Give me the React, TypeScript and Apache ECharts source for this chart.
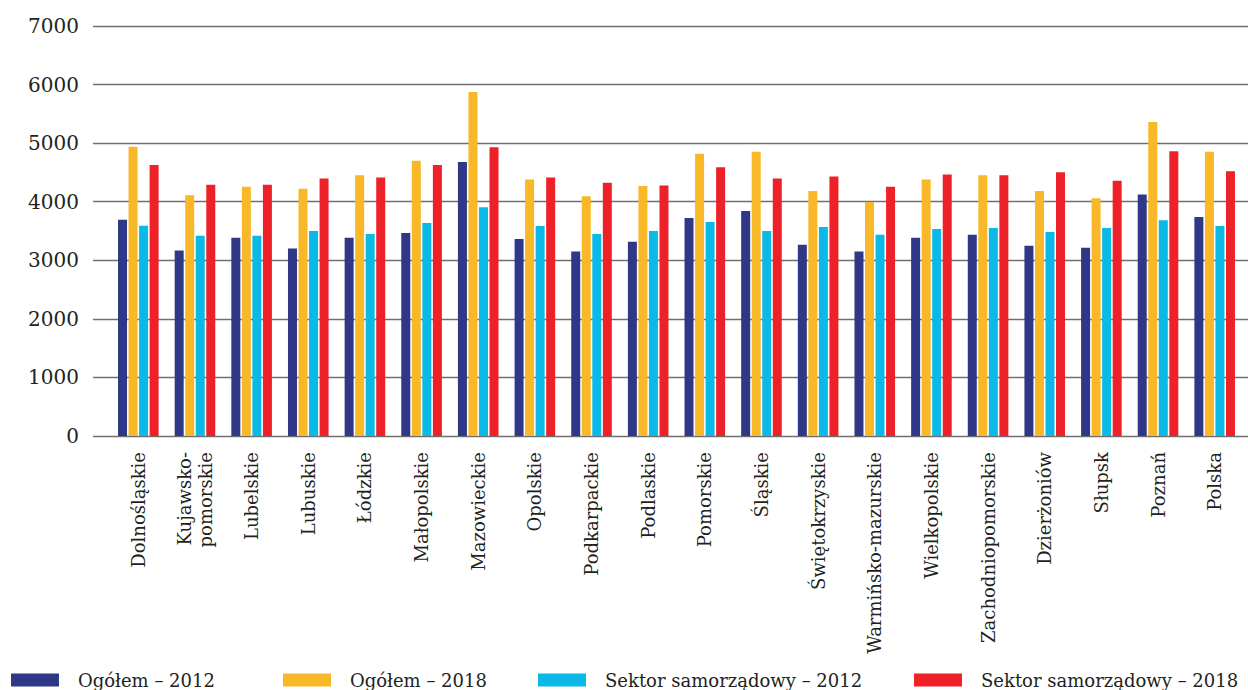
import React, { useEffect, useRef } from "react";
import * as echarts from "echarts";

const categories = [
  "Dolnośląskie",
  "Kujawsko-\npomorskie",
  "Lubelskie",
  "Lubuskie",
  "Łódzkie",
  "Małopolskie",
  "Mazowieckie",
  "Opolskie",
  "Podkarpackie",
  "Podlaskie",
  "Pomorskie",
  "Śląskie",
  "Świętokrzyskie",
  "Warmińsko-mazurskie",
  "Wielkopolskie",
  "Zachodniopomorskie",
  "Dzierżoniów",
  "Słupsk",
  "Poznań",
  "Polska",
];

const seriesNames = [
  "Ogółem – 2012",
  "Ogółem – 2018",
  "Sektor samorządowy – 2012",
  "Sektor samorządowy – 2018",
];

const ogolem2012 = [3690, 3165, 3385, 3200, 3385, 3465, 4680, 3365, 3150, 3315, 3720, 3840, 3265, 3150, 3385, 3435, 3250, 3215, 4125, 3740];
const ogolem2018 = [4940, 4110, 4255, 4220, 4450, 4700, 5875, 4380, 4095, 4270, 4820, 4855, 4185, 3995, 4380, 4450, 4185, 4060, 5360, 4855];
const sektor2012 = [3590, 3420, 3420, 3500, 3450, 3635, 3905, 3585, 3450, 3500, 3655, 3500, 3570, 3435, 3535, 3550, 3485, 3550, 3685, 3585];
const sektor2018 = [4625, 4290, 4290, 4395, 4415, 4625, 4930, 4415, 4325, 4275, 4590, 4395, 4430, 4255, 4465, 4450, 4505, 4360, 4860, 4520];

const yTicks = { min: 0, max: 7000, interval: 1000 };

const colors = ["#2E3887", "#F8B827", "#0BB9E6", "#EE2129"];
const seriesData = [ogolem2012, ogolem2018, sektor2012, sektor2018];

const FONT = "DejaVu Serif";
const TEXT = "#231f20";

export default function App() {
  const ref = useRef<HTMLDivElement>(null);

  useEffect(() => {
    if (!ref.current) return;
    const chart = echarts.init(ref.current, undefined, { renderer: "svg" });
    const legendLefts = [11, 283, 538, 914];
    const option: any = {
      animation: false,
      backgroundColor: "#ffffff",
      legend: seriesNames.map((n, i) => ({
        data: [n],
        left: legendLefts[i],
        top: 671,
        padding: 0,
        itemWidth: 48,
        itemHeight: 13,
        icon: "rect",
        selectedMode: false,
        textStyle: {
          fontFamily: FONT,
          fontSize: 18,
          color: TEXT,
          padding: [0, 0, 0, 14],
        },
      })),
      grid: [
        { left: 110, right: 5, top: 26, bottom: 254, containLabel: false },
        { left: 93, right: 0, top: 26, bottom: 254, containLabel: false },
      ],
      xAxis: [
        {
          type: "category",
          gridIndex: 0,
          data: categories,
          axisLine: { show: false },
          axisTick: { show: false },
          axisLabel: {
            interval: 0,
            rotate: 90,
            margin: 16,
            fontFamily: FONT,
            fontSize: 18,
            lineHeight: 21,
            color: TEXT,
          },
        },
        {
          type: "value",
          gridIndex: 1,
          show: false,
          min: 0,
          max: 1,
        },
      ],
      yAxis: [
        {
          type: "value",
          gridIndex: 0,
          min: yTicks.min,
          max: yTicks.max,
          interval: yTicks.interval,
          show: false,
          splitLine: { show: false },
        },
        {
          type: "value",
          gridIndex: 1,
          min: yTicks.min,
          max: yTicks.max,
          interval: yTicks.interval,
          axisLine: { show: false },
          axisTick: { show: false },
          axisLabel: {
            margin: 14,
            fontFamily: FONT,
            fontSize: 20,
            color: TEXT,
            formatter: (v: number) => String(v),
          },
          splitLine: { show: true, lineStyle: { color: "#6f6f6f", width: 1.3 } },
        },
      ],
      series: seriesNames.map((n, i) => ({
        name: n,
        type: "bar",
        xAxisIndex: 0,
        yAxisIndex: 0,
        data: seriesData[i],
        barWidth: 9,
        barGap: "17%",
        itemStyle: { color: colors[i] },
      })),
    };
    chart.setOption(option);
    return () => chart.dispose();
  }, []);

  return (
    <div
      ref={ref}
      style={{ position: "absolute", left: 0, top: 0, width: 1248, height: 690 }}
    />
  );
}
